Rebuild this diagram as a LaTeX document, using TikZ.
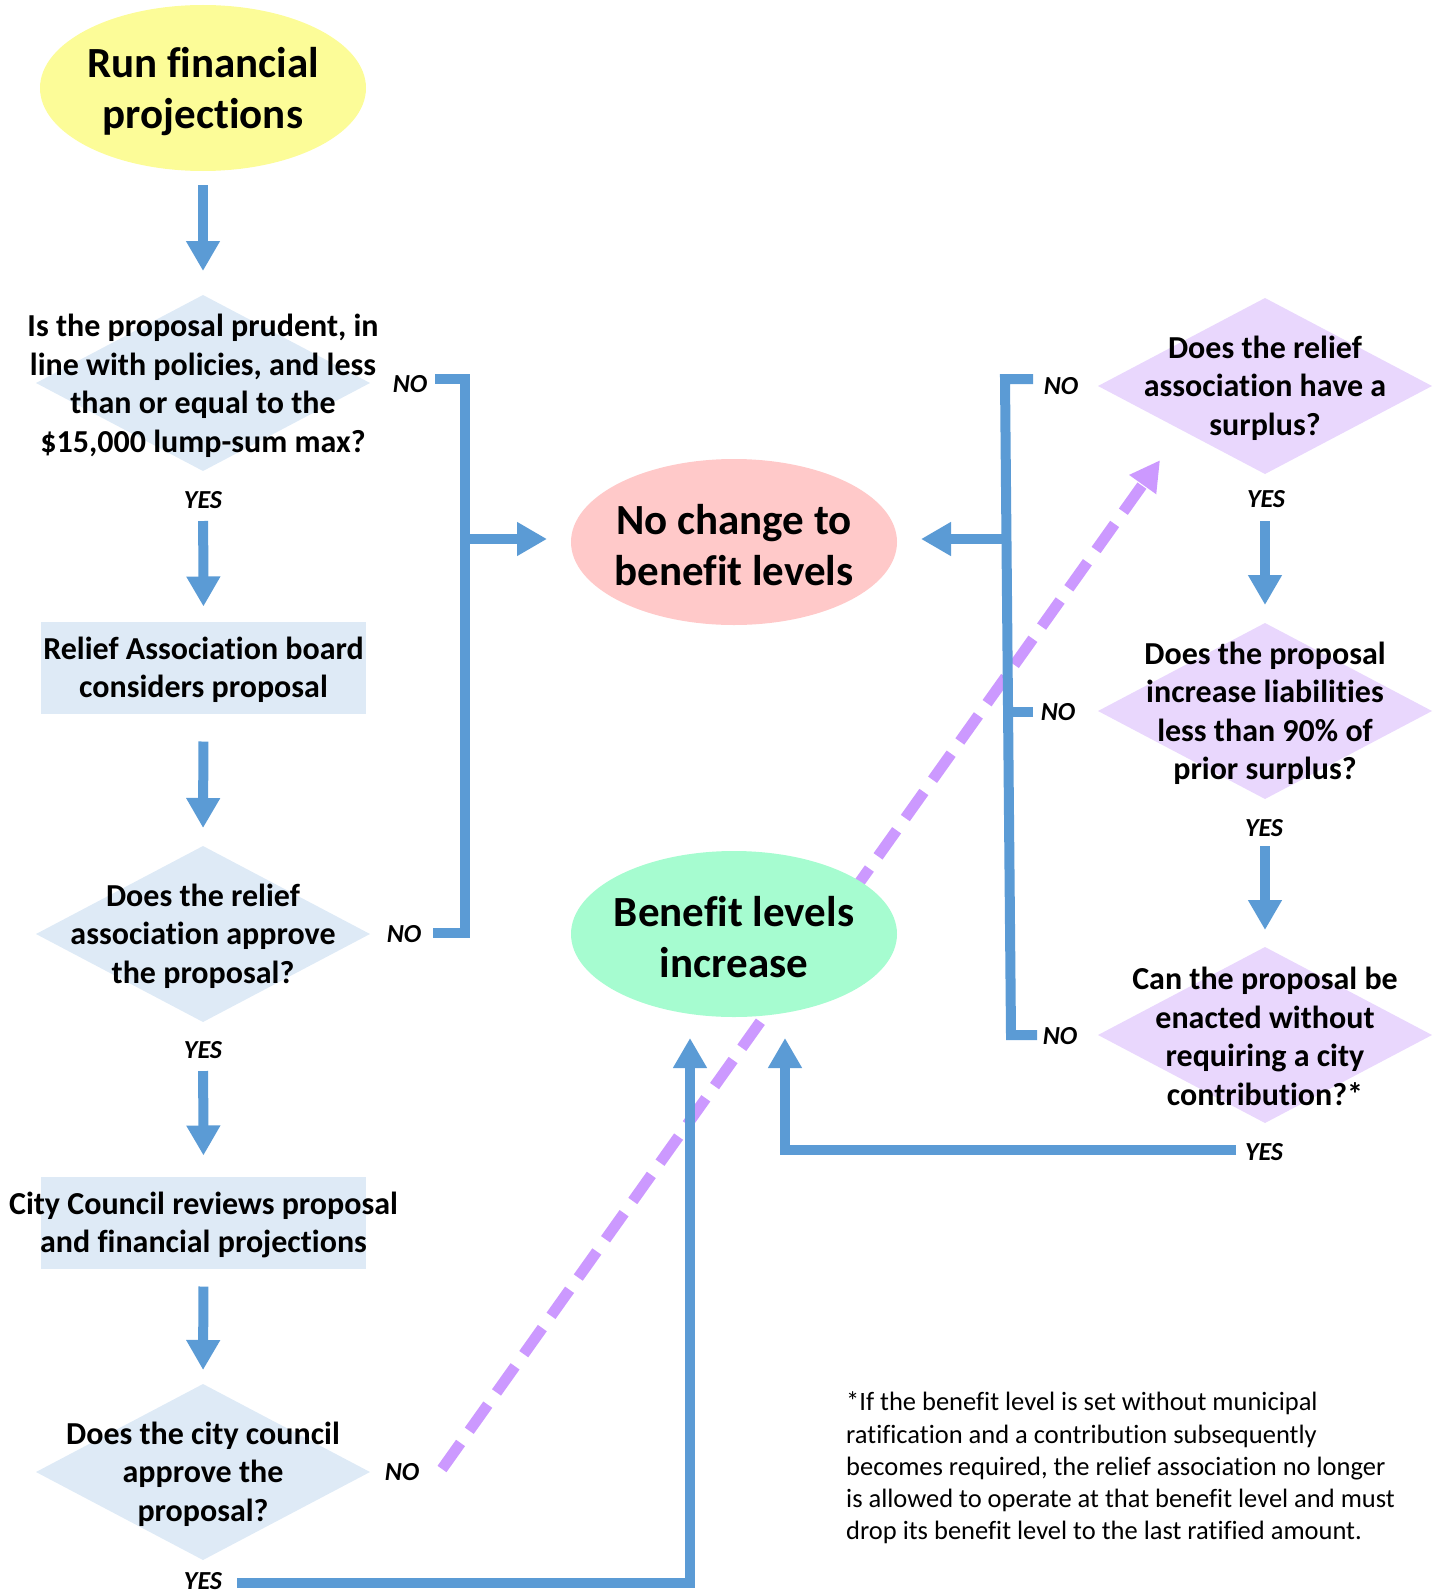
\documentclass[tikz,border=0pt]{standalone}
\usepackage{fontspec}
\setmainfont[Ligatures=NoCommon]{Carlito}
\usetikzlibrary{shapes.geometric,arrows.meta,calc}
\pgfdeclarelayer{bg}
\pgfsetlayers{bg,main}
\definecolor{flowblue}{HTML}{5B9BD5}
\definecolor{startyellow}{HTML}{FCFC98}
\definecolor{nopink}{HTML}{FFC9C9}
\definecolor{incgreen}{HTML}{A6FCD0}
\definecolor{boxblue}{HTML}{DEEAF6}
\definecolor{lilac}{HTML}{E9D7FD}
\definecolor{dashpurple}{HTML}{CC99FF}
\begin{document}
\begin{tikzpicture}[x=1pt,y=-1pt,
  bigtxt/.style={font=\fontsize{43}{51}\selectfont\bfseries, align=center, inner sep=0pt, yshift=-2.5pt},
  midtxt/.style={font=\fontsize{32}{38.5}\selectfont\bfseries, align=center, inner sep=0pt, yshift=-2pt},
  yn/.style={font=\fontsize{26}{30}\selectfont\bfseries\itshape, inner sep=0pt},
  note/.style={font=\fontsize{26.5}{32.2}\selectfont, align=left, inner sep=0pt, anchor=west},
  oval/.style={ellipse, minimum width=326pt, minimum height=166pt, inner sep=0pt, outer sep=0pt},
  dia/.style={diamond, minimum width=334pt, minimum height=176pt, inner sep=0pt, outer sep=0pt, fill=boxblue},
  pdia/.style={dia, fill=lilac},
  rbox/.style={rectangle, minimum width=325pt, minimum height=92pt, inner sep=0pt, outer sep=0pt, fill=boxblue},
  conn/.style={draw=flowblue, line width=10pt},
  arr/.style={conn, -{Triangle[width=32pt,length=30pt]}},
  dasharr/.style={draw=dashpurple, line width=11pt, dash pattern=on 32pt off 15pt, -{Triangle[width=31pt,length=30pt]}}
]
\useasboundingbox (0,0) rectangle (1439,1592);

% ---------- left column ----------
\node[oval, fill=startyellow] (start) at (203,88) {};
\node[bigtxt] (startT) at (203,89) {Run financial\\projections};

\node[dia] (d1) at (203,383) {};
\node[midtxt] (d1T) at (203,384) {Is the proposal prudent, in\\line with policies, and less\\than or equal to the\\\$15,000 lump-sum max?};

\node[rbox] (b1) at (203.5,667.5) {};
\node[midtxt] (b1T) at (203.5,668) {Relief Association board\\considers proposal};

\node[dia] (d2) at (203,934) {};
\node[midtxt] (d2T) at (203,934) {Does the relief\\association approve\\the proposal?};

\node[rbox] (b2) at (203.5,1222.5) {};
\node[midtxt] (b2T) at (203.5,1223) {City Council reviews proposal\\and financial projections};

\node[dia] (d3) at (203,1472) {};
\node[midtxt] (d3T) at (203,1472) {Does the city council\\approve the\\proposal?};

\node[yn] (yes1) at (203,500) {YES};
\node[yn] (yes2) at (203,1050) {YES};
\node[yn] (yes3) at (203,1581) {YES};
\node[yn] (no1) at (410,384) {NO};
\node[yn] (no2) at (404,934) {NO};
\node[yn] (no3) at (402,1472) {NO};

% ---------- centre ----------
\node[oval, fill=nopink] (nochange) at (734,542) {};
\node[bigtxt] (nochangeT) at (734,543) {No change to\\benefit levels};

\node[oval, fill=incgreen] (increase) at (734,934) {};
\node[bigtxt] (increaseT) at (734,935) {Benefit levels\\increase};

% ---------- right column ----------
\node[pdia] (d4) at (1265,386) {};
\node[midtxt] (d4T) at (1265,386) {Does the relief\\association have a\\surplus?};

\node[pdia] (d5) at (1265,711) {};
\node[midtxt] (d5T) at (1265,711.5) {Does the proposal\\increase liabilities\\less than 90\% of\\prior surplus?};

\node[pdia] (d6) at (1265,1035) {};
\node[midtxt] (d6T) at (1265,1034.5) {Can the proposal be\\enacted without\\requiring a city\\contribution?*};

\node[yn] (yes4) at (1266,499) {YES};
\node[yn] (yes5) at (1264,828) {YES};
\node[yn] (yes6) at (1264,1152) {YES};
\node[yn] (no4) at (1061,386) {NO};
\node[yn] (no5) at (1058,712) {NO};
\node[yn] (no6) at (1060,1036) {NO};

% ---------- footnote ----------
\node[note] (foot) at (846,1468) {*If the benefit level is set without municipal\\ratification and a contribution subsequently\\becomes required, the relief association no longer\\is allowed to operate at that benefit level and must\\drop its benefit level to the last ratified amount.};

% ---------- coordinates for free ends ----------
\coordinate (nl1) at (435,379);
\coordinate (lbTop) at (465,379);
\coordinate (lbBot) at (465,933);
\coordinate (nl2) at (433,933);
\coordinate (lbMid) at (465,539);

\coordinate (nr1) at (1033,379);
\coordinate (rbTop) at (1005,379);
\coordinate (rbBot) at (1011,1035);
\coordinate (nr3) at (1037,1035);
\coordinate (nr2) at (1033,712);
\coordinate (rbStub) at (1009,712);
\coordinate (rbMid) at (1006,539);

\coordinate (yl) at (237,1583);
\coordinate (ylc) at (690,1583);
\coordinate (yr) at (1236,1150);
\coordinate (yrc) at (785,1150);

\coordinate (ds) at (442,1469);

\begin{pgfonlayer}{bg}
  % dashed purple connector
  \draw[dasharr, shorten >=37pt] (ds) -- (d4.south west);

  % straight down arrows, left column
  \draw[arr, shorten <=14pt, shorten >=24pt] (start.south) -- (d1.north);
  \draw[arr, shorten <=50pt, shorten >=15pt] (d1.south) -- (b1.north);
  \draw[arr, shorten <=28pt, shorten >=18pt] (b1.south) -- (d2.north);
  \draw[arr, shorten <=49pt, shorten >=21pt] (d2.south) -- (b2.north);
  \draw[arr, shorten <=18pt, shorten >=14pt] (b2.south) -- (d3.north);

  % right column
  \draw[arr, shorten <=47pt, shorten >=18pt] (d4.south) -- (d5.north);
  \draw[arr, shorten <=47pt, shorten >=17pt] (d5.south) -- (d6.north);

  % left bracket
  \draw[conn] (nl1) -- (lbTop) -- (lbBot) -- (nl2);
  \draw[arr, shorten >=24pt] (lbMid) -- (lbMid -| nochange.west);

  % right bracket
  \draw[conn] (nr1) -- (rbTop) -- (rbBot) -- (nr3);
  \draw[conn] (nr2) -- (rbStub);
  \draw[arr, shorten >=24pt] (rbMid) -- (rbMid -| nochange.east);

  % YES connectors to increase
  \draw[arr, shorten >=21pt] (yl) -- (ylc) -- (ylc |- increase.south);
  \draw[arr, shorten >=21pt] (yr) -- (yrc) -- (yrc |- increase.south);
\end{pgfonlayer}
\end{tikzpicture}
\end{document}
